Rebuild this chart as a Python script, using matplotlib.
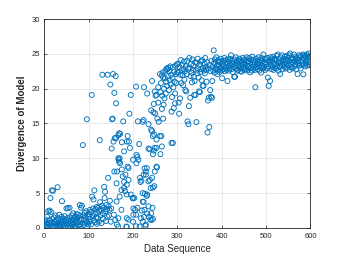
import numpy as np
import matplotlib
matplotlib.use("Agg")
import matplotlib.pyplot as plt

# ---- data ----
# Segment A: sequence 1..145
seg_a_y = [
    0.9, 0.3, 1.2, 0.5, 0.2, 1.6, 0.7, 0.1, 2.4, 0.6,
    1.1, 2.5, 0.4, 4.3, 2.3, 0.8, 5.4, 1.3, 0.3, 5.35,
    0.6, 1.5, 0.2, 0.9, 1.8, 0.4, 1.1, 0.2, 0.7, 5.85,
    1.4, 0.3, 0.8, 1.9, 0.5, 0.2, 1.2, 0.6, 1.6, 3.85,
    0.4, 0.9, 0.1, 1.3, 0.6, 1.7, 0.3, 0.8, 1.1, 2.8,
    0.5, 1.4, 2.85, 0.2, 1.0, 0.6, 2.9, 1.5, 0.3, 1.2,
    0.7, 1.8, 0.4, 1.1, 2.1, 0.5, 1.4, 0.2, 0.9, 1.6,
    0.3, 1.2, 2.0, 0.6, 1.5, 0.8, 1.9, 0.4, 1.1, 3.3,
    1.7, 0.5, 2.9, 1.3, 3.2, 0.7, 11.9, 1.8, 0.4, 1.2,
    2.2, 0.6, 1.5, 1.0, 2.4, 15.6, 0.8, 1.9, 0.5, 1.6,
    2.0, 0.9, 2.6, 1.3, 0.5, 2.3, 19.1, 4.5, 1.7, 2.8,
    4.1, 1.1, 5.4, 2.0, 0.8, 2.7, 1.5, 3.0, 0.6, 2.2,
    1.4, 2.9, 0.9, 2.5, 12.6, 3.7, 1.8, 2.6, 0.7, 3.2,
    22.0, 2.1, 1.3, 2.9, 5.9, 4.3, 5.2, 2.4, 1.0, 3.3,
    2.7, 1.6, 22.0, 7.2, 3.1,
]

# Segment B: transition region (explicit sequence positions)
seg_b_x = [
    146, 147, 148, 149, 150, 151, 152, 153, 154, 155, 156, 157, 158, 158, 159,
    160, 161, 162, 162, 163, 163, 164, 164, 167, 167, 167, 167, 168, 169, 169,
    170, 170, 171, 171, 174, 174, 175, 175, 177, 178, 180, 180, 180, 182, 183,
    185, 186, 186, 186, 186, 186, 188, 188, 190, 190, 190, 191, 192, 193, 195,
    195, 199, 200, 200, 200, 201, 201, 203, 205, 207, 207, 207, 208, 208, 210,
    210, 211, 212, 214, 215, 216, 217, 218, 219, 220, 222, 222, 222, 222, 224,
    224, 224, 225, 225, 226, 226, 227, 228, 229, 229, 229, 231, 231, 232, 232,
    232, 235, 235, 235, 235, 236, 238, 238, 239, 240, 241, 241, 241, 242, 243,
    243, 243, 244, 245, 245, 245, 245, 246, 247, 247, 248, 248, 249, 249, 249,
    250, 251, 253, 253, 253, 253, 254, 255, 257, 257, 258, 261, 261, 262, 262,
    263, 264, 265, 265, 265, 266, 267, 268, 268, 269, 270, 271, 272, 273, 274,
    275, 276, 277, 278, 279, 280, 281, 282, 283, 284, 285, 286, 287, 287, 288,
    289, 290, 290, 291, 292, 293, 294, 295, 295, 296, 297, 298, 299, 300,
]
seg_b_y = [
    1.8, 2.6, 3.9, 20.6, 0.9, 2.8, 11.4, 15.6, 15.7, 22.1, 12.4, 1.9, 19.4, 8.1, 12.9,
    1.15, 21.8, 17.9, 12.9, 3.8, 6.4, 0.5, 8.1, 13.3, 10.0, 1.4, 0.2, 9.8, 13.6, 9.5,
    10.0, 4.5, 13.5, 9.3, 5.45, 2.6, 8.4, 12.3, 7.4, 15.3, 11.0, 5.75, 6.6, 5.3, 7.65,
    0.2, 12.4, 6.2, 4.8, 0.15, 1.4, 13.2, 8.8, 6.9, 8.6, 1.2, 12.4, 16.4, 11.5, 19.1,
    4.8, 4.3, 9.8, 4.25, 0.9, 2.8, 1.9, 4.3, 2.6, 20.3, 0.24, 1.9, 10.5, 9.3, 10.2,
    2.9, 15.3, 9.8, 12.05, 0.2, 7.2, 6.6, 1.4, 6.8, 2.5, 15.25, 5.0, 0.9, 3.78,
    15.5, 7.65, 3.73, 20.2, 1.6, 2.6, 8.55, 4.9, 0.3, 8.1, 7.65, 0.48, 8.6, 4.6, 19.3,
    2.05, 4.8, 14.9, 6.7, 3.1, 11.4, 1.6, 11.3, 6.9, 1.2, 5.74, 16.9, 2.1, 14.1, 1.15,
    21.1, 7.2, 13.9, 2.9, 13.2, 10.6, 5.8, 1.3, 16.6, 17.8, 11.1, 13.4, 6.0, 8.1, 11.5,
    19.6, 16.45, 19.0, 12.7, 8.8, 11.5, 19.1, 8.7, 15.7, 20.2, 18.0, 15.25, 22.1, 13.2, 10.6,
    19.5, 20.8, 13.2, 17.1, 11.7, 21.9, 19.0, 22.3, 21.6, 15.7, 17.7, 20.0, 18.6, 21.5, 22.6,
    19.3, 21.0, 22.9, 20.4, 22.8, 21.8, 23.0, 19.8, 22.5, 21.2, 23.2, 20.6, 22.0, 12.2, 16.7,
    18.8, 21.5, 12.2, 23.1, 20.2, 17.2, 22.4, 21.0, 19.3, 17.9, 23.3, 22.1, 20.8, 23.5, 22.3,
]

# Segment C: sequence 301..600
seg_c_y = [
    22.4, 23.6, 18.0, 16.4, 23.1, 18.6, 22.0, 24.1, 20.8, 22.7,
    23.4, 21.9, 20.5, 22.8, 23.9, 21.3, 22.5, 19.8, 23.2, 19.6,
    22.1, 24.0, 15.3, 22.9, 14.9, 17.5, 24.4, 23.0, 18.7, 21.8,
    23.5, 22.3, 20.9, 24.2, 22.7, 23.3, 21.7, 19.1, 21.1, 23.8,
    19.1, 22.6, 15.2, 23.7, 22.2, 24.3, 22.9, 21.6, 19.6, 23.4,
    19.5, 22.4, 23.9, 22.8, 21.2, 24.1, 20.4, 23.0, 20.4, 22.6,
    23.6, 22.2, 24.4, 23.1, 22.7, 21.0, 23.8, 13.7, 18.3, 22.9,
    18.7, 14.5, 23.4, 19.8, 22.5, 18.85, 24.0, 18.7, 21.1, 23.2,
    22.6, 25.5, 23.7, 22.3, 24.2, 23.0, 22.8, 24.5, 23.3, 22.1,
    23.9, 22.7, 24.1, 23.4, 22.4, 23.8, 22.9, 24.3, 23.1, 22.6,
    21.5, 23.5, 24.0, 22.8, 23.3, 24.4, 22.5, 23.7, 23.0, 24.1,
    22.7, 23.6, 21.1, 24.2, 23.2, 22.6, 23.9, 22.9, 24.3, 23.4,
    24.8, 22.8, 23.5, 24.0, 22.4, 23.7, 23.1, 21.7, 24.2, 21.7,
    23.3, 24.5, 22.9, 23.6, 22.6, 24.1, 23.2, 22.7, 23.9, 24.3,
    23.0, 22.5, 24.0, 23.4, 22.45, 23.8, 24.4, 22.9, 23.5, 24.1,
    22.7, 23.6, 24.2, 23.1, 22.8, 24.5, 23.3, 22.6, 23.9, 24.0,
    23.2, 24.4, 22.9, 22.35, 23.7, 24.2, 23.0, 22.6, 24.6, 23.5,
    22.9, 24.1, 23.4, 23.8, 22.7, 20.2, 24.3, 23.1, 23.6, 24.0,
    22.8, 23.5, 24.5, 23.2, 22.6, 24.1, 23.7, 23.0, 22.3, 24.4,
    23.3, 24.0, 22.9, 24.9, 23.6, 23.1, 24.3, 22.7, 23.8, 24.2,
    23.5, 22.9, 24.4, 21.6, 23.2, 20.4, 24.0, 23.7, 21.1, 24.5,
    23.4, 22.8, 24.2, 23.9, 23.1, 24.6, 22.7, 23.6, 24.3, 23.0,
    24.1, 23.5, 22.9, 24.7, 23.3, 24.9, 23.8, 22.6, 24.2, 23.7,
    23.1, 22.1, 24.5, 23.9, 23.4, 24.8, 22.8, 24.0, 23.6, 24.3,
    23.2, 24.6, 23.8, 22.9, 24.1, 23.5, 24.7, 23.0, 24.4, 23.9,
    23.3, 24.8, 22.7, 25.05, 23.6, 24.2, 23.1, 24.5, 23.8, 22.9,
    24.3, 23.7, 24.9, 23.2, 24.0, 23.5, 24.6, 22.8, 24.4, 23.9,
    22.1, 24.2, 23.6, 24.8, 23.3, 24.5, 23.9, 22.9, 24.7, 23.4,
    24.1, 23.7, 24.9, 22.05, 24.4, 23.5, 24.8, 23.2, 24.6, 24.0,
    23.6, 24.9, 23.3, 24.5, 24.1, 25.05, 23.8, 24.7, 23.4, 24.3,
]

x_ticks = [0, 100, 200, 300, 400, 500, 600]
y_ticks = [0, 5, 10, 15, 20, 25, 30]
x_label = "Data Sequence"
y_label = "Divergence of Model"

seg_a_x = np.arange(1, len(seg_a_y) + 1)
seg_c_x = np.arange(301, 301 + len(seg_c_y))
xs = np.concatenate([seg_a_x, np.array(seg_b_x), seg_c_x])
ys = np.concatenate([np.array(seg_a_y), np.array(seg_b_y), np.array(seg_c_y)])

plt.rcParams['font.family'] = ['Liberation Sans', 'DejaVu Sans']

fig = plt.figure(figsize=(3.43, 2.57), dpi=100)
ax = fig.add_axes([0.129, 0.113, 0.776, 0.813])

ax.scatter(xs, ys, s=13, facecolors='none', edgecolors='#0072BD',
           linewidths=0.65, zorder=3)

ax.set_xlim(0, 600)
ax.set_ylim(0, 30)
ax.set_xticks(x_ticks)
ax.set_yticks(y_ticks)
ax.grid(True, color='#e6e6e6', linewidth=0.6, zorder=0)
ax.set_axisbelow(True)

for sp in ax.spines.values():
    sp.set_color('#262626')
    sp.set_linewidth(0.6)

ax.tick_params(axis='both', which='both', direction='in', length=2.2,
               width=0.5, colors='#262626', labelsize=5.5, pad=3.5,
               top=True, right=True)
ax.tick_params(axis='y', pad=3)

ax.set_xlabel(x_label, fontsize=7, color='#262626', labelpad=3)
ax.set_ylabel(y_label, fontsize=7, fontweight='bold', color='#262626', labelpad=3)

fig.savefig('out.png', dpi=100)
